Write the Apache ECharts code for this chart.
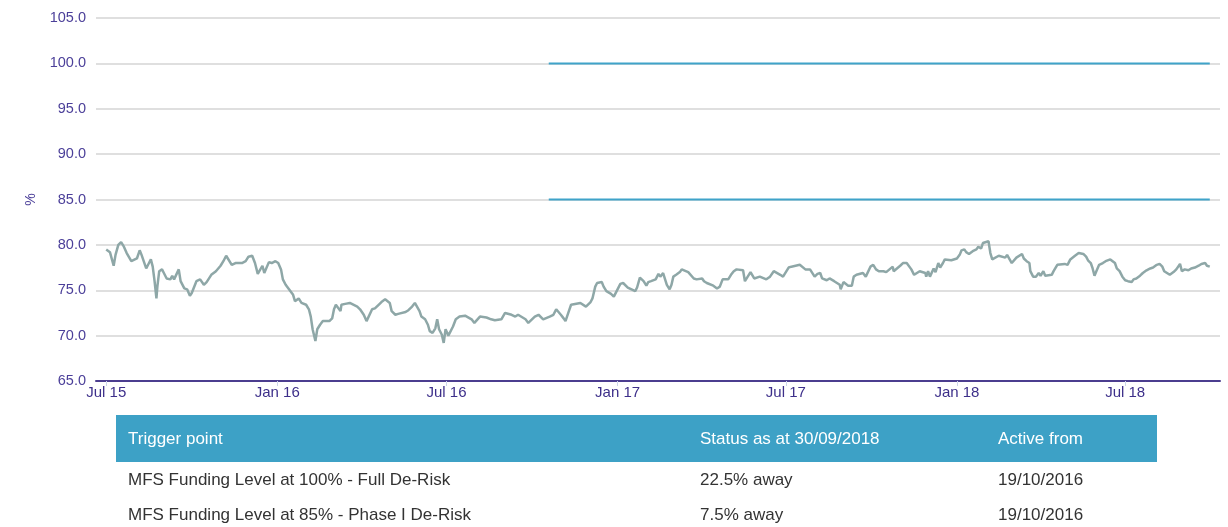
<!DOCTYPE html>
<html lang="en">
<head>
    <meta charset="UTF-8">
    <title>MFS Funding Level</title>
    <style>
        body { margin: 0; background: #fff; }
    </style>
</head>
<body>
<div id="chart" style="width: 1228px;height: 527px;"></div>
<script src="https://cdn.jsdelivr.net/npm/echarts@6/dist/echarts.min.js"></script>
<script>
    // days counted from 1 Jul 2015
    var days = [
        0, 4, 8, 10, 13, 16, 19, 22, 27, 29, 33, 36, 38, 43, 46, 48, 50, 52, 54, 55, 57, 60, 62, 65, 69, 71, 73, 78, 80, 84,
        87, 90, 92, 97, 101, 105, 108, 110, 113, 118, 123, 126, 129, 135, 139, 146, 150, 153, 157, 160, 163, 168, 170, 175,
        178, 182, 185, 188, 190, 193, 196, 198, 201, 203, 207, 210, 215, 218, 220, 222, 225, 227, 230, 233,
        240, 243, 245, 247, 252, 253, 257, 262, 270, 273, 277, 280, 286, 289, 293, 296, 300, 305, 307, 311, 314, 322, 325,
        329, 332, 337, 339, 343, 346, 348, 351, 354, 356, 358, 361, 363, 365, 368, 373, 376, 380, 386, 393, 396, 402, 409,
        414, 418, 425, 429, 436, 440, 443, 451, 454, 461, 465,
        467, 470, 477, 481, 484, 489, 492, 494, 497, 500, 502, 510, 516, 521, 523, 526, 528, 533, 535, 538, 540, 543, 546,
        548, 553, 556, 561, 563, 569, 571, 574, 578, 581, 583, 586, 591, 594, 596, 599, 603, 606, 608, 610, 613, 617, 619,
        626, 632, 635, 641, 643, 646, 653, 657, 660, 663, 669, 672, 675, 678, 685, 687, 693, 697,
        703, 710, 714, 718, 725, 728, 734, 737, 746, 752, 754, 757, 762, 765, 768, 770, 775, 778, 783, 786, 789, 790, 793,
        798, 802, 804, 807, 814, 817, 822, 825, 828, 831, 836, 839, 846, 847, 854, 857, 861, 866, 869, 875, 881, 882, 884,
        886, 890, 892, 895, 897, 900, 902, 909, 915, 918, 920, 923, 925, 928, 932, 936, 938, 941, 943, 945,
        949, 951, 953, 960, 967, 969, 971, 974, 979, 985, 987, 990, 993, 994, 997, 1000, 1003, 1005, 1008, 1010, 1017,
        1019, 1023, 1031, 1034, 1037, 1042, 1046, 1048, 1051, 1054, 1056, 1059, 1061, 1063, 1065, 1068, 1072, 1075, 1080,
        1082, 1085, 1087, 1090, 1093, 1096, 1099, 1103, 1105, 1108, 1112, 1115, 1119, 1123, 1126, 1130, 1133, 1136, 1138,
        1140, 1144, 1148, 1151, 1155, 1157, 1160, 1164, 1167, 1171, 1175, 1178, 1182, 1184, 1187
    ];
    var funding = [
        79.5, 79.2, 77.7, 78.9, 80.0, 80.3, 79.8, 79.1, 78.2, 78.4, 78.5, 79.4, 78.9, 77.4, 78.0, 78.4, 77.6, 76.0, 74.1, 75.4,
        77.1, 77.3, 76.9, 76.3, 76.2, 76.6, 76.2, 77.3, 76.0, 75.2, 75.1, 74.4, 74.7, 76.0, 76.2, 75.6, 75.9, 76.0, 76.7, 77.1,
        77.7, 78.2, 78.8, 77.8, 78.0, 78.0, 78.2, 78.7, 78.8, 78.0, 76.8, 77.7, 76.9, 78.1, 78.0, 78.2, 78.0, 77.3, 76.2, 75.6,
        75.2, 75.1, 74.5, 73.8, 74.1, 73.6, 73.4, 72.9, 72.1, 70.7, 69.4, 70.7, 71.2, 71.6,
        71.6, 71.9, 72.9, 73.4, 72.7, 73.4, 73.5, 73.6, 73.2, 72.9, 72.3, 71.6, 72.9, 73.0, 73.4, 73.7, 74.0, 73.6, 72.7, 72.3,
        72.4, 72.6, 72.8, 73.2, 73.6, 72.7, 72.1, 71.8, 71.2, 70.5, 70.3, 70.8, 71.8, 70.7, 70.1, 69.2, 70.7, 70.0, 71.0, 71.8,
        72.1, 72.2, 71.8, 71.4, 72.1, 72.0, 71.8, 71.7, 71.8, 72.5, 72.3, 72.1, 72.3, 71.8, 71.4, 72.1, 72.3,
        72.1, 71.8, 72.1, 72.3, 72.9, 72.3, 71.9, 71.6, 72.5, 73.4, 73.2, 73.6, 73.2, 73.7, 74.1, 75.4, 75.8, 75.9, 75.4, 74.9,
        74.8, 74.6, 74.3, 74.2, 75.7, 75.8, 75.3, 75.1, 74.9, 75.3, 76.4, 76.0, 75.5, 75.9, 76.0, 76.2, 76.8, 76.5, 76.9, 75.6,
        75.1, 75.6, 76.5, 76.7, 77.0, 77.3, 77.0, 76.3, 76.2, 76.3, 76.0, 75.8, 75.5, 75.2, 75.4, 76.2, 76.2, 76.7, 77.1, 77.3,
        77.2, 76.0, 77.0, 76.3,
        76.5, 76.2, 76.5, 77.1, 76.7, 76.5, 77.5, 77.6, 77.8, 77.3, 77.1, 77.3, 76.5, 76.8, 76.9, 76.3, 76.1, 76.3, 76.0, 75.8,
        75.6, 75.1, 75.9, 75.5, 75.5, 76.5, 76.7, 76.9, 76.5, 77.6, 77.8, 77.3, 77.1, 77.1, 77.0, 77.6, 77.1, 77.7, 78.0, 78.0,
        77.3, 76.7, 77.1, 76.9, 76.5, 77.1, 76.5, 77.4, 77.0, 78.0, 77.5, 78.0, 78.4, 78.3, 78.5, 78.9, 79.4, 79.5, 79.2, 79.0,
        79.3, 79.5, 79.8, 79.6, 80.2, 80.4,
        80.4, 79.1, 78.4, 78.8, 78.6, 78.9, 79.1, 78.0, 78.6, 79.0, 78.5, 78.2, 78.0, 77.1, 76.5, 76.5, 76.9, 76.6, 77.1, 76.6,
        76.7, 77.1, 77.8, 77.9, 77.8, 78.4, 78.8, 79.1, 79.3, 79.0, 78.7, 78.3, 78.0, 77.4, 76.6, 77.1, 77.8, 78.0, 78.2, 78.4,
        78.3, 78.0, 77.4, 77.1, 76.5, 76.1, 76.0, 75.9, 76.2, 76.3, 76.6, 76.9, 77.2, 77.4, 77.5, 77.8, 77.9, 77.6, 77.1, 76.9,
        76.7, 77.0, 77.3, 77.9, 77.1, 77.3, 77.2, 77.4, 77.5, 77.7, 77.9, 78.0, 77.7, 77.6
    ];
    var triggerLevels = [100, 85];
    var triggerFrom = [2016, 9, 19];
    var triggerTo = [2018, 8, 30];
    var tickMonths = [[2015, 6], [2016, 0], [2016, 6], [2017, 0], [2017, 6], [2018, 0], [2018, 6]];
    var monthNames = ['Jan', 'Feb', 'Mar', 'Apr', 'May', 'Jun', 'Jul', 'Aug', 'Sep', 'Oct', 'Nov', 'Dec'];

    var tableHead = ['Trigger point', 'Status as at 30/09/2018', 'Active from'];
    var tableRows = [
        ['MFS Funding Level at 100% - Full De-Risk', '22.5% away', '19/10/2016'],
        ['MFS Funding Level at 85% - Phase I De-Risk', '7.5% away', '19/10/2016']
    ];

    var fontFamily = '"Liberation Sans", Arial, sans-serif';
    var start = Date.UTC(2015, 6, 1);
    var DAY = 86400000;

    var lineData = [];
    for (var i = 0; i < days.length; i++) {
        lineData.push([start + days[i] * DAY, funding[i]]);
    }

    var tickValues = tickMonths.map(function (m) {
        return Date.UTC(m[0], m[1], 1);
    });

    var t0 = Date.UTC(triggerFrom[0], triggerFrom[1], triggerFrom[2]);
    var t1 = Date.UTC(triggerTo[0], triggerTo[1], triggerTo[2]);
    var triggerSeries = triggerLevels.map(function (lvl) {
        return {
            type: 'line',
            data: [[t0, lvl], [t1, lvl]],
            showSymbol: false,
            lineStyle: {color: '#3fa3c9', width: 2},
            z: 3
        };
    });

    // table drawn as graphic elements
    var colX = [128, 700, 998];
    var rowY = [480, 515];
    var graphics = [{
        type: 'rect',
        shape: {x: 116, y: 415, width: 1041, height: 47},
        style: {fill: '#3da1c6'}
    }];
    tableHead.forEach(function (txt, c) {
        graphics.push({
            type: 'text', x: colX[c], y: 439,
            style: {text: txt, fill: '#fff', font: '17px ' + fontFamily, textVerticalAlign: 'middle'}
        });
    });
    tableRows.forEach(function (row, r) {
        row.forEach(function (txt, c) {
            graphics.push({
                type: 'text', x: colX[c], y: rowY[r],
                style: {text: txt, fill: '#333', font: '17px ' + fontFamily, textVerticalAlign: 'middle'}
            });
        });
    });

    var chart = echarts.init(document.getElementById('chart'));
    chart.setOption({
        animation: false,
        backgroundColor: '#fff',
        textStyle: {fontFamily: fontFamily},
        grid: {left: 96, right: 8, top: 18, bottom: 146, containLabel: false},
        xAxis: {
            type: 'value',
            min: Date.UTC(2015, 5, 20),
            max: Date.UTC(2018, 9, 11),
            axisLine: {lineStyle: {color: '#4b3d8f', width: 2}},
            axisTick: {show: true, customValues: tickValues, length: 5, lineStyle: {color: '#ccd6eb'}},
            splitLine: {show: false},
            axisLabel: {
                customValues: tickValues,
                color: '#3d2f8a',
                fontSize: 15,
                margin: 4,
                formatter: function (v) {
                    var d = new Date(v);
                    return monthNames[d.getUTCMonth()] + ' ' + String(d.getUTCFullYear()).slice(2);
                }
            }
        },
        yAxis: {
            type: 'value',
            min: 65,
            max: 105,
            interval: 5,
            name: '%',
            nameLocation: 'middle',
            nameGap: 58,
            nameTextStyle: {color: '#4b3f99', fontSize: 14},
            axisLine: {show: false},
            axisTick: {show: false},
            splitLine: {lineStyle: {color: '#d4d4d4', width: 1.5}},
            axisLabel: {
                color: '#4b3f99',
                fontSize: 14.5,
                margin: 10,
                formatter: function (v) { return v.toFixed(1); }
            }
        },
        series: [{
            type: 'line',
            data: lineData,
            showSymbol: false,
            lineStyle: {color: '#8ea7a7', width: 2.5},
            z: 4
        }].concat(triggerSeries),
        graphic: graphics
    });
</script>
</body>
</html>
